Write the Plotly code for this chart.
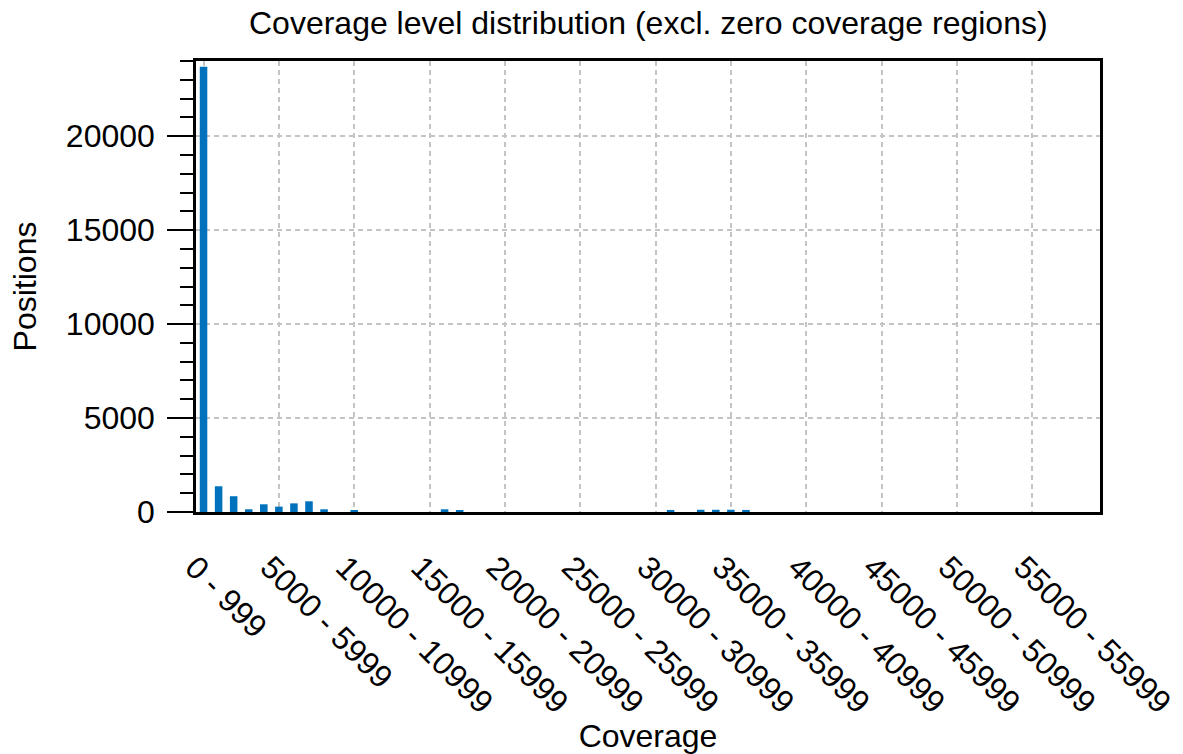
import plotly.graph_objects as go

# Coverage bins of width 1000, labelled "lo - hi"
bin_starts = list(range(0, 60000, 1000))
bin_labels = [f"{s} - {s + 999}" for s in bin_starts]

# Number of positions in each coverage bin (non-listed bins are zero)
counts = [0] * len(bin_labels)
nonzero = {
    0: 23700, 1: 1370, 2: 840, 3: 145, 4: 410, 5: 285, 6: 460, 7: 570, 8: 145,
    10: 90, 16: 145, 17: 95, 31: 110, 33: 120, 34: 120, 35: 120, 36: 110,
}
for idx, val in nonzero.items():
    counts[idx] = val

tick_labels = bin_labels[::5]

FONT = "Liberation Sans, Arial, Helvetica, sans-serif"
FS = 32

fig = go.Figure(
    go.Bar(
        x=bin_labels,
        y=counts,
        width=0.5,
        marker=dict(color="#0072BD", line=dict(width=0)),
    )
)

fig.update_layout(
    width=1183,
    height=754,
    margin=dict(l=196, r=83, t=61, b=242, autoexpand=False),
    paper_bgcolor="white",
    plot_bgcolor="white",
    font=dict(family=FONT, size=FS, color="black"),
    showlegend=False,
    title=dict(
        text="Coverage level distribution (excl. zero coverage regions)",
        x=0.548, xanchor="center", y=0.97, yanchor="middle",
        font=dict(size=FS),
    ),
)

fig.update_xaxes(
    type="category",
    categoryorder="array",
    categoryarray=bin_labels,
    range=[-0.5, len(bin_labels) - 0.5],
    tickmode="array",
    tickvals=tick_labels,
    ticktext=tick_labels,
    tickangle=45,
    tickfont=dict(size=FS),
    ticks="",
    ticklabelstandoff=21,
    ticklabelshift=-9,
    automargin=False,
    showgrid=True,
    gridcolor="#c4c4c4",
    gridwidth=1.5,
    griddash="5px,4px",
    showline=True,
    linecolor="black",
    linewidth=2.5,
    mirror=True,
    zeroline=False,
    title=dict(text="Coverage", standoff=0, font=dict(size=FS)),
)

fig.update_yaxes(
    range=[0, 24000],
    tickmode="linear",
    tick0=0,
    dtick=5000,
    tickformat="d",
    tickfont=dict(size=FS),
    ticks="outside",
    ticklen=26,
    tickwidth=2,
    tickcolor="black",
    ticklabelstandoff=6,
    minor=dict(dtick=1000, ticks="outside", ticklen=13, tickwidth=2, tickcolor="black", showgrid=False),
    automargin=False,
    showgrid=True,
    gridcolor="#c4c4c4",
    gridwidth=1.5,
    griddash="5px,4px",
    showline=True,
    linecolor="black",
    linewidth=2.5,
    mirror=True,
    zeroline=False,
    title=dict(text="Positions", standoff=20, font=dict(size=FS)),
)

fig.write_html("out.html")
